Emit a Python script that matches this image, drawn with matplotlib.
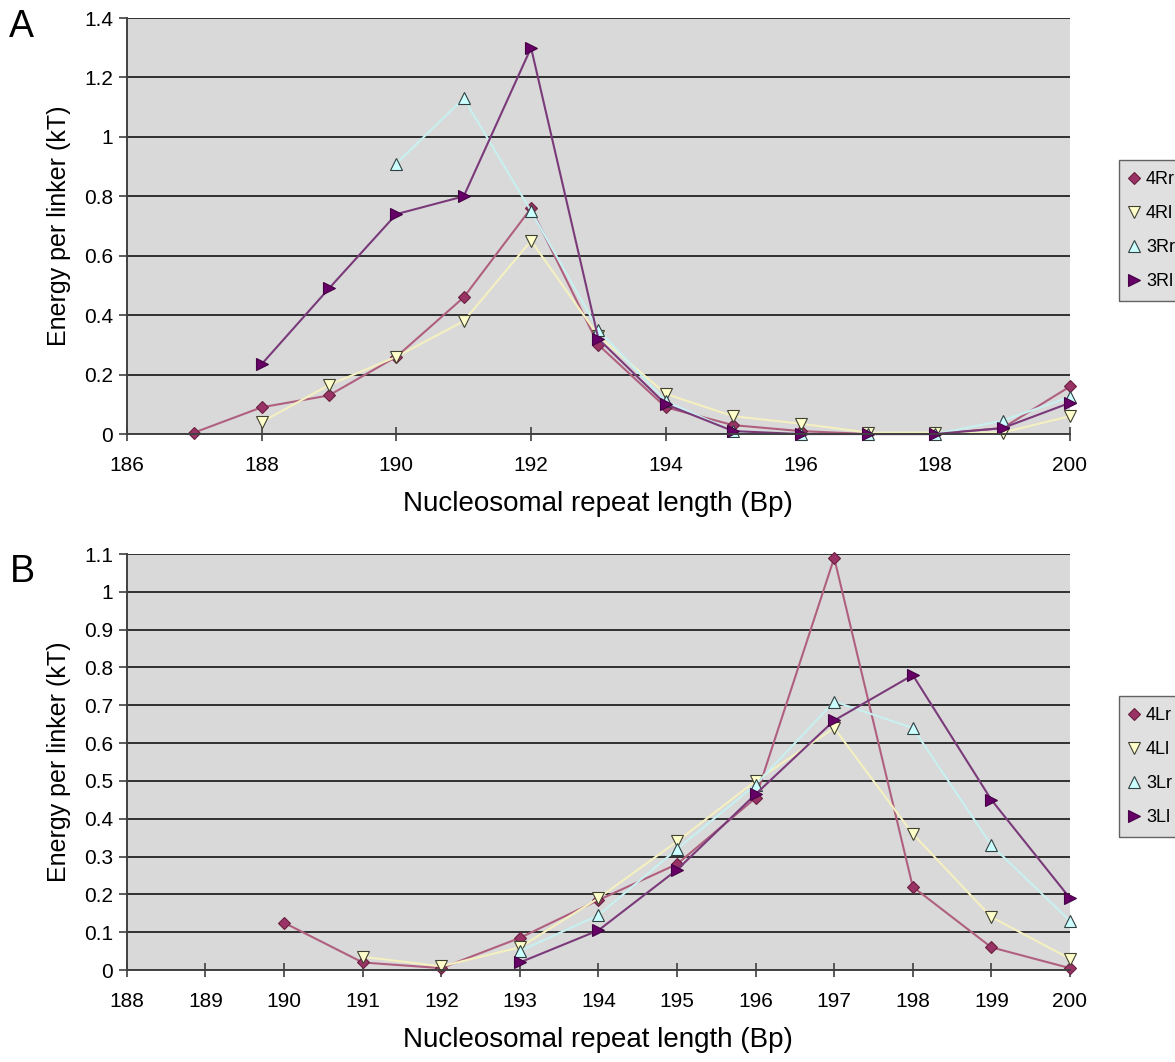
import numpy as np
from matplotlib import pyplot as plt

plt.rcParams['font.family'] = ['Liberation Sans', 'DejaVu Sans']

# panel A data (right-handed)
xA = [187, 188, 189, 190, 191, 192, 193, 194, 195, 196, 197, 198, 199, 200]
rr4 = [0.005, 0.09, 0.13, 0.26, 0.46, 0.76, 0.30, 0.09, 0.03, 0.01, 0.0, 0.0, 0.02, 0.16]
xA_rl4 = [188, 189, 190, 191, 192, 193, 194, 195, 196, 197, 198, 199, 200]
rl4 = [0.04, 0.165, 0.26, 0.38, 0.65, 0.33, 0.135, 0.06, 0.035, 0.005, 0.005, 0.005, 0.06]
xA_rr3 = [190, 191, 192, 193, 194, 195, 196, 197, 198, 199, 200]
rr3 = [0.91, 1.13, 0.75, 0.35, 0.11, 0.01, 0.0, 0.0, 0.0, 0.045, 0.125]
xA_rl3 = [188, 189, 190, 191, 192, 193, 194, 195, 196, 197, 198, 199, 200]
rl3 = [0.235, 0.49, 0.74, 0.80, 1.30, 0.32, 0.10, 0.01, 0.0, 0.0, 0.0, 0.02, 0.105]

# panel B data (left-handed)
xB_lr4 = [190, 191, 192, 193, 194, 195, 196, 197, 198, 199, 200]
lr4 = [0.125, 0.02, 0.005, 0.085, 0.185, 0.28, 0.455, 1.09, 0.22, 0.06, 0.005]
xB_ll4 = [191, 192, 193, 194, 195, 196, 197, 198, 199, 200]
ll4 = [0.035, 0.01, 0.06, 0.19, 0.34, 0.50, 0.64, 0.36, 0.14, 0.03]
xB_lr3 = [193, 194, 195, 196, 197, 198, 199, 200]
lr3 = [0.05, 0.145, 0.32, 0.49, 0.71, 0.64, 0.33, 0.13]
xB_ll3 = [193, 194, 195, 196, 197, 198, 199, 200]
ll3 = [0.02, 0.105, 0.265, 0.465, 0.66, 0.78, 0.45, 0.19]

styles = [
    dict(color='#b0607f', marker='D', ms=6, mfc='#993366', mec='#6a2040'),
    dict(color='#f4f0c0', marker='v', ms=8, mfc='#ffffcc', mec='#404030'),
    dict(color='#c8f0f0', marker='^', ms=8, mfc='#ccffff', mec='#304040'),
    dict(color='#7a3a7a', marker='>', ms=9, mfc='#660066', mec='#440044'),
]


def style_ax(ax, ymax, ystep, xticks, xlim):
    ax.set_facecolor('#d9d9d9')
    ax.set_ylim(0, ymax)
    ax.set_xlim(*xlim)
    ax.set_yticks(np.arange(0, ymax + 1e-9, ystep))
    ax.set_xticks(xticks)
    ax.yaxis.set_major_formatter(plt.FuncFormatter(lambda v, p: ('%g' % round(v, 2))))
    ax.grid(axis='y', color='#303030', lw=1.4)
    ax.set_axisbelow(True)
    for s in ['top', 'right']:
        ax.spines[s].set_visible(False)
    ax.spines['left'].set_color('#404040')
    ax.spines['bottom'].set_color('#404040')
    ax.spines['left'].set_linewidth(1.4)
    ax.spines['bottom'].set_linewidth(1.4)
    ax.tick_params(axis='x', direction='inout', length=10, width=1.2, labelsize=15, pad=11, color='#404040')
    ax.tick_params(axis='y', direction='out', length=6, width=1.2, labelsize=15, pad=4, color='#404040')
    ax.set_ylabel('Energy per linker (kT)', fontsize=18, labelpad=9)
    ax.set_xlabel('Nucleosomal repeat length (Bp)', fontsize=20, labelpad=11)


fig = plt.figure(figsize=(11.75, 10.62), dpi=100)
axA = fig.add_axes([0.108, 0.5913, 0.8026, 0.3917])
axB = fig.add_axes([0.108, 0.0866, 0.8026, 0.3917])

seriesA = [(xA, rr4, '4Rr'), (xA_rl4, rl4, '4Rl'), (xA_rr3, rr3, '3Rr'), (xA_rl3, rl3, '3Rl')]
for (x, y, lab), st in zip(seriesA, styles):
    axA.plot(x, y, lw=1.5, label=lab, mew=0.8, clip_on=False, **st)
style_ax(axA, 1.4, 0.2, range(186, 201, 2), (186, 200))

seriesB = [(xB_lr4, lr4, '4Lr'), (xB_ll4, ll4, '4Ll'), (xB_lr3, lr3, '3Lr'), (xB_ll3, ll3, '3Ll')]
for (x, y, lab), st in zip(seriesB, styles):
    axB.plot(x, y, lw=1.5, label=lab, mew=0.8, clip_on=False, **st)
style_ax(axB, 1.1, 0.1, range(188, 201), (188, 200))

for ax, ytop in [(axA, 160), (axB, 696)]:
    h, l = ax.get_legend_handles_labels()
    leg = fig.legend(h, l, loc='upper left', bbox_to_anchor=(1119 / 1175, 1 - ytop / 1062),
                     frameon=True, fancybox=False, fontsize=13, handlelength=0.5,
                     handletextpad=0.4, labelspacing=0.95, borderpad=0.6, borderaxespad=0,
                     edgecolor='#404040')
    leg.get_frame().set_facecolor('#d9d9d9')
    for ln in leg.get_lines():
        ln.set_linestyle('none')

fig.text(0.008, 0.965, 'A', fontsize=27)
fig.text(0.008, 0.452, 'B', fontsize=27)

fig.savefig('out.png', dpi=100)
